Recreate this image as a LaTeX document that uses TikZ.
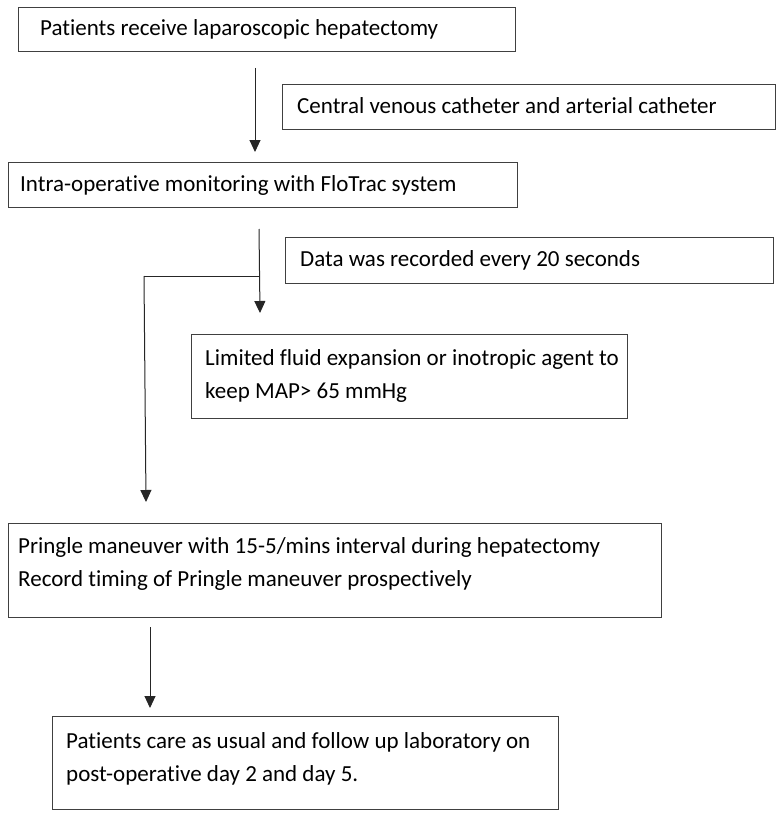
\documentclass[tikz,border=0pt]{standalone}
\usepackage{fontspec}
\setmainfont{Carlito}[RawFeature=-liga]
\usetikzlibrary{arrows.meta,calc}
\begin{document}
\begin{tikzpicture}[x=1pt,y=-1pt,
  box/.style={draw=black!75,line width=1pt,inner sep=0pt,anchor=north west},
  txt/.style={anchor=west,inner sep=0pt,align=left,font=\fontsize{23}{33}\selectfont},
  flow/.style={draw=black!85,line width=1pt,-{Triangle[width=11pt,length=12pt]}},
  plain/.style={draw=black!85,line width=1pt}]
\useasboundingbox (0,0) rectangle (780,816);
\fill[white] (0,0) rectangle (780,816);
% boxes
\node[box,minimum width=497pt,minimum height=44pt] (b1) at (18,7) {};
\node[box,minimum width=493pt,minimum height=45pt] (b2) at (282,84) {};
\node[box,minimum width=509pt,minimum height=45pt] (b3) at (8,162) {};
\node[box,minimum width=488pt,minimum height=46pt] (b4) at (285,237) {};
\node[box,minimum width=436pt,minimum height=84pt] (b5) at (191,334) {};
\node[box,minimum width=653pt,minimum height=94pt] (b6) at (8,523) {};
\node[box,minimum width=506pt,minimum height=93pt] (b7) at (52,716) {};
% texts
\node[txt] (t1) at (40,29) {Patients receive laparoscopic hepatectomy};
\node[txt] (t2) at (297,106) {Central venous catheter and arterial catheter};
\node[txt] (t3) at (20,185) {Intra-operative monitoring with FloTrac system};
\node[txt] (t4) at (300,260) {Data was recorded every 20 seconds};
\node[txt,anchor=north west] (t5) at (205,349) {Limited fluid expansion or inotropic agent to\\keep MAP> 65 mmHg};
\node[txt,anchor=north west] (t6) at (18,537) {Pringle maneuver with 15-5/mins interval during hepatectomy\\Record timing of Pringle maneuver prospectively};
\node[txt,anchor=north west] (t7) at (66,732) {Patients care as usual and follow up laboratory on\\post-operative day 2 and day 5.};
% connector points
\coordinate (a1s) at (255,68);
\coordinate (a1e) at (255,152);
\coordinate (a2s) at (259,229);
\coordinate (a2j) at (259,276);
\coordinate (a2e) at (260,313);
\coordinate (a3j) at (144,276);
\coordinate (a3e) at (146,502);
\coordinate (a4s) at (150,627);
\coordinate (a4e) at (150,708);
% connectors
\draw[flow] (a1s) -- (a1e);
\draw[flow] (a2s) -- (a2e);
\draw[plain] (a2j) -- (a3j);
\draw[flow] (a3j) -- (a3e);
\draw[flow] (a4s) -- (a4e);
\end{tikzpicture}
\end{document}
